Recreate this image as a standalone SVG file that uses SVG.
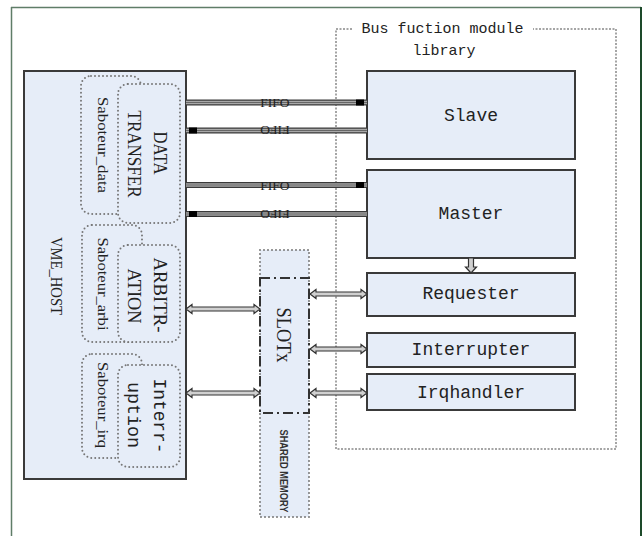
<svg xmlns="http://www.w3.org/2000/svg" width="643" height="536" viewBox="0 0 643 536">
<style>
.box{fill:#e6edf8;stroke:#3a3a3a;stroke-width:2}
.dot{fill:#e6edf8;stroke:#777;stroke-width:2;stroke-dasharray:0 4;stroke-linecap:round}
.mono{font-family:"Liberation Mono",monospace;fill:#222}
.serif{font-family:"Liberation Serif",serif;fill:#222}
.sans{font-family:"Liberation Sans",sans-serif;fill:#333}
.darr{fill:#d0d0d0;stroke:#333;stroke-width:1.2;stroke-linejoin:miter}
</style>
<rect width="643" height="536" fill="#fff"/>
<g id="frame">
<line x1="11.5" y1="7" x2="11.5" y2="536" stroke="#5f7d68" stroke-width="1.5"/>
<line x1="11" y1="7.5" x2="641" y2="7.5" stroke="#5f7d68" stroke-width="1.5"/>
<line x1="641" y1="7" x2="641" y2="536" stroke="#1d4a2a" stroke-width="2"/>
</g>
<g id="library">
<path d="M352,29 H336 V449 H616 V29 H533" fill="none" stroke="#888" stroke-width="1.5" stroke-dasharray="2 1.5"/>
<text class="mono" x="442.5" y="33" font-size="15" text-anchor="middle">Bus fuction module</text>
<text class="mono" x="444" y="55" font-size="15" text-anchor="middle">library</text>
</g>
<g id="vme_host">
<rect class="box" x="24" y="71" width="162" height="408"/>
<text class="serif" transform="translate(56,276) rotate(90)" x="0" y="5" font-size="16" text-anchor="middle" textLength="78" lengthAdjust="spacingAndGlyphs">VME_HOST</text>
</g>
<g id="saboteur_data">
<rect class="dot" x="81" y="76" width="60" height="138" rx="10"/>
<text class="serif" transform="translate(102,145) rotate(90)" x="0" y="4.5" font-size="14" fill="#444" text-anchor="middle" textLength="96" lengthAdjust="spacingAndGlyphs">Saboteur_data</text>
</g>
<g id="data_transfer">
<rect class="dot" x="118" y="84" width="62" height="139" rx="10"/>
<text class="serif" transform="translate(160,153) rotate(90)" x="0" y="6.5" font-size="19" text-anchor="middle" textLength="43" lengthAdjust="spacingAndGlyphs">DATA</text>
<text class="serif" transform="translate(134,154) rotate(90)" x="0" y="6.5" font-size="19" text-anchor="middle" textLength="87" lengthAdjust="spacingAndGlyphs">TRANSFER</text>
</g>
<g id="saboteur_arbi">
<rect class="dot" x="82" y="225" width="60" height="117" rx="10"/>
<text class="serif" transform="translate(102,284) rotate(90)" x="0" y="4.5" font-size="14" fill="#444" text-anchor="middle" textLength="93" lengthAdjust="spacingAndGlyphs">Saboteur_arbi</text>
</g>
<g id="arbitration">
<rect class="dot" x="118" y="245" width="62" height="97" rx="10"/>
<text class="serif" transform="translate(160,295) rotate(90)" x="0" y="6.5" font-size="19" text-anchor="middle" textLength="75" lengthAdjust="spacingAndGlyphs">ARBITR-</text>
<text class="serif" transform="translate(134,296) rotate(90)" x="0" y="6.5" font-size="19" text-anchor="middle" textLength="55" lengthAdjust="spacingAndGlyphs">ATION</text>
</g>
<g id="saboteur_irq">
<rect class="dot" x="82" y="354" width="60" height="104" rx="10"/>
<text class="serif" transform="translate(102,405) rotate(90)" x="0" y="4.5" font-size="14" fill="#444" text-anchor="middle" textLength="86" lengthAdjust="spacingAndGlyphs">Saboteur_irq</text>
</g>
<g id="interruption">
<rect class="dot" x="118" y="365" width="62" height="102" rx="10"/>
<text class="mono" transform="translate(160,416) rotate(90)" x="0" y="6" font-size="18" text-anchor="middle" textLength="75" lengthAdjust="spacingAndGlyphs">Interr-</text>
<text class="mono" transform="translate(134,415) rotate(90)" x="0" y="6" font-size="18" text-anchor="middle" textLength="66" lengthAdjust="spacingAndGlyphs">uption</text>
</g>
<g id="shared_memory">
<rect class="dot" x="260" y="250" width="49" height="267" stroke-width="1.8"/>
<text class="sans" transform="translate(284,471) rotate(90)" x="0" y="4" font-size="11" font-weight="bold" text-anchor="middle" textLength="83" lengthAdjust="spacingAndGlyphs">SHARED MEMORY</text>
</g>
<g id="slotx">
<rect x="260" y="278" width="49" height="135" fill="none" stroke="#333" stroke-width="2" stroke-dasharray="10 4 2 4"/>
<text class="serif" transform="translate(284,335) rotate(90)" x="0" y="7" font-size="22" text-anchor="middle" textLength="55" lengthAdjust="spacingAndGlyphs">SLOTx</text>
</g>
<g id="slave">
<rect class="box" x="367" y="71" width="208" height="88"/>
<text class="mono" x="471" y="121" font-size="18" text-anchor="middle">Slave</text>
</g>
<g id="master">
<rect class="box" x="367" y="170" width="208" height="88"/>
<text class="mono" x="471" y="219" font-size="18" text-anchor="middle">Master</text>
</g>
<g id="requester">
<rect class="box" x="367" y="273" width="208" height="43"/>
<text class="mono" x="471" y="299" font-size="18" text-anchor="middle">Requester</text>
</g>
<g id="interrupter">
<rect class="box" x="367" y="333" width="208" height="34"/>
<text class="mono" x="471" y="355" font-size="18" text-anchor="middle">Interrupter</text>
</g>
<g id="irqhandler">
<rect class="box" x="367" y="374" width="208" height="36"/>
<text class="mono" x="471" y="398" font-size="18" text-anchor="middle">Irqhandler</text>
</g>
<g id="connectors">
<g stroke-linecap="butt">
<line x1="186" y1="102.5" x2="367" y2="102.5" stroke="#3a3a3a" stroke-width="6"/>
<line x1="186" y1="102.5" x2="367" y2="102.5" stroke="#a8a8a8" stroke-width="3.5"/>
<line x1="186" y1="102.5" x2="367" y2="102.5" stroke="#666" stroke-width="1"/>
<line x1="186" y1="130.5" x2="367" y2="130.5" stroke="#3a3a3a" stroke-width="6"/>
<line x1="186" y1="130.5" x2="367" y2="130.5" stroke="#a8a8a8" stroke-width="3.5"/>
<line x1="186" y1="130.5" x2="367" y2="130.5" stroke="#666" stroke-width="1"/>
<line x1="186" y1="185" x2="367" y2="185" stroke="#3a3a3a" stroke-width="6"/>
<line x1="186" y1="185" x2="367" y2="185" stroke="#a8a8a8" stroke-width="3.5"/>
<line x1="186" y1="185" x2="367" y2="185" stroke="#666" stroke-width="1"/>
<line x1="186" y1="214" x2="367" y2="214" stroke="#3a3a3a" stroke-width="6"/>
<line x1="186" y1="214" x2="367" y2="214" stroke="#a8a8a8" stroke-width="3.5"/>
<line x1="186" y1="214" x2="367" y2="214" stroke="#666" stroke-width="1"/>
</g>
<rect x="356" y="99.5" width="8" height="6" fill="#000"/>
<rect x="189" y="127.5" width="8" height="6" fill="#000"/>
<rect x="356" y="182" width="8" height="6" fill="#000"/>
<rect x="189" y="211" width="8" height="6" fill="#000"/>
<text class="serif" x="275" y="107" font-size="13.5" text-anchor="middle" fill="#333">FIFO</text>
<text class="serif" transform="translate(275,130.5) rotate(180)" x="0" y="4.5" font-size="13.5" text-anchor="middle" fill="#333">FIFO</text>
<text class="serif" x="275" y="189.5" font-size="13.5" text-anchor="middle" fill="#333">FIFO</text>
<text class="serif" transform="translate(275,214) rotate(180)" x="0" y="4.5" font-size="13.5" text-anchor="middle" fill="#333">FIFO</text>
<polygon class="darr" points="186,309 192,304.5 192,307 254,307 254,304.5 260,309 254,313.5 254,311 192,311 192,313.5"/>
<polygon class="darr" points="186,393 192,388.5 192,391 254,391 254,388.5 260,393 254,397.5 254,395 192,395 192,397.5"/>
<polygon class="darr" points="310,294 316,289.5 316,292 361,292 361,289.5 367,294 361,298.5 361,296 316,296 316,298.5"/>
<polygon class="darr" points="310,349 316,344.5 316,347 361,347 361,344.5 367,349 361,353.5 361,351 316,351 316,353.5"/>
<polygon class="darr" points="310,393 316,388.5 316,391 361,391 361,388.5 367,393 361,397.5 361,395 316,395 316,397.5"/>
<polygon class="darr" points="468.5,258 473.5,258 473.5,267 476.5,267 471,273 465.5,267 468.5,267"/>
</g>
</svg>
